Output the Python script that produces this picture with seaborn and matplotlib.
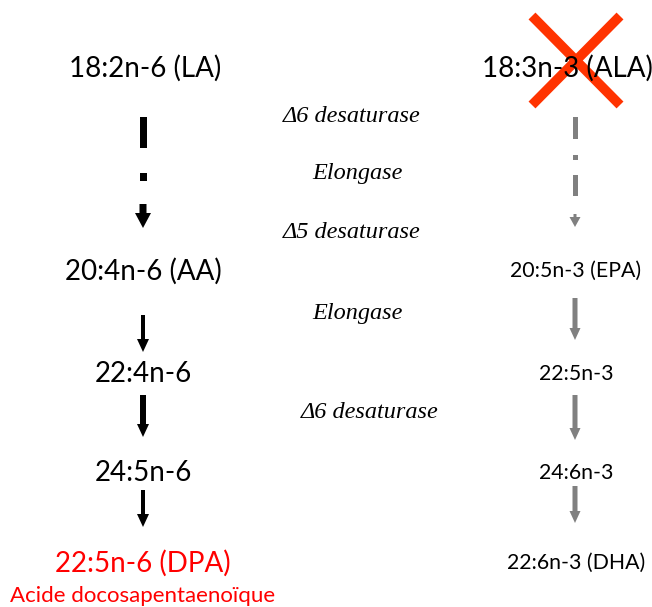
import matplotlib.pyplot as plt
import seaborn as sns

# fatty acid names, n-6 column (left) and n-3 column (right)
n6_acids = ['18:2n-6 (LA)', '20:4n-6 (AA)', '22:4n-6', '24:5n-6', '22:5n-6 (DPA)']
n3_acids = ['18:3n-3 (ALA)', '20:5n-3 (EPA)', '22:5n-3', '24:6n-3', '22:6n-3 (DHA)']
dpa_name = 'Acide docosapentaenoïque'
enzymes = ['Δ6 desaturase', 'Elongase', 'Δ5 desaturase', 'Elongase', 'Δ6 desaturase']

sns.set_theme(style='white')
plt.rcParams['font.family'] = ['Lato', 'DejaVu Sans']
plt.rcParams['text.color'] = 'black'

fig = plt.figure(figsize=(6.52, 6.07), dpi=100)
ax = fig.add_axes([0, 0, 1, 1])
ax.set_xlim(0, 652)
ax.set_ylim(607, 0)
ax.axis('off')

# layout (pixels)
row_y = [68, 271, 374, 473, 563]
x_left, x_right = 143, 575
enz_x = [352, 357, 352, 357, 370]
enz_y = [116, 174, 233, 313, 413]

grey = '#808080'


def arrow(x, y0, y1, shaft, head_w, head_l, col):
    ax.arrow(x, y0, 0, y1 - y0, width=shaft, head_width=head_w, head_length=head_l,
             length_includes_head=True, color=col, lw=0)


def dash(x, y0, y1, w, col):
    ax.fill_between([x - w / 2, x + w / 2], y0, y1, color=col, lw=0)


# left column
for i, name in enumerate(n6_acids):
    col = 'red' if i == len(n6_acids) - 1 else 'black'
    ax.text(x_left + (2 if i == 0 else 0), row_y[i], name, ha='center', va='center',
            fontsize=20, color=col)
ax.text(x_left, 596, dpa_name, ha='center', va='center', fontsize=16, color='red')

# right column
for i, name in enumerate(n3_acids):
    fs = 20 if i == 0 else 15.3
    xx = 567 if i == 0 else x_right + 1
    ax.text(xx, row_y[i], name, ha='center', va='center', fontsize=fs, color='black')

# enzymes
for name, x, y in zip(enzymes, enz_x, enz_y):
    ax.text(x, y, name, ha='center', va='center', fontsize=17.5, style='italic',
            family='Liberation Serif', color='black')

# red cross over ALA
ax.plot([532, 620], [16, 105], color='#ff3300', lw=7, solid_capstyle='butt')
ax.plot([620, 532], [16, 105], color='#ff3300', lw=7, solid_capstyle='butt')

# first step: dash-dot arrows
dash(x_left, 117, 148, 7, 'black')
dash(x_left, 173, 181, 7, 'black')
arrow(x_left, 204, 228, 7, 16, 15, 'black')

dash(x_right, 117, 139, 5, grey)
dash(x_right, 155, 160, 5, grey)
dash(x_right, 175, 196, 5, grey)
arrow(x_right, 214, 227, 3, 11, 10, grey)

# solid arrows between the other steps
left_arrows = [(315, 352, 4), (395, 437, 6), (490, 527, 4)]
right_arrows = [(298, 340, 5), (395, 440, 5), (486, 523, 5)]
for y0, y1, w in left_arrows:
    arrow(x_left, y0, y1, w, 12, 13, 'black')
for y0, y1, w in right_arrows:
    arrow(x_right, y0, y1, w, 11, 12, grey)

fig.savefig('out.png', dpi=100)
